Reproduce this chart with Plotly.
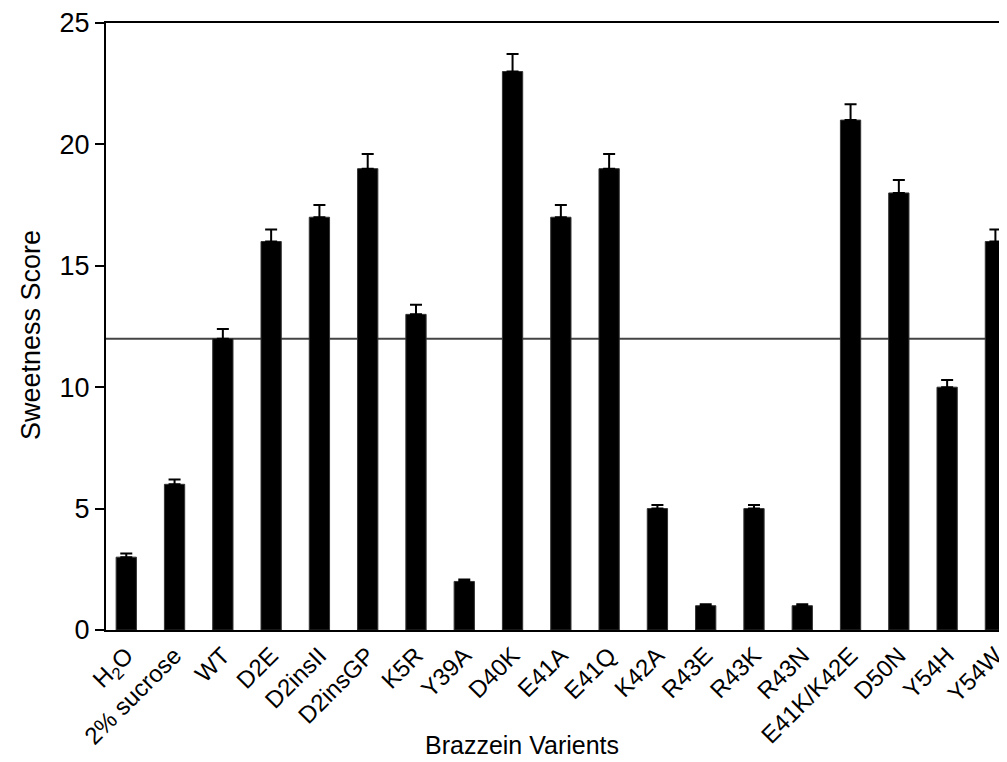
import plotly.graph_objects as go

categories = ["H<sub>2</sub>O", "2% sucrose", "WT", "D2E", "D2insII", "D2insGP", "K5R",
              "Y39A", "D40K", "E41A", "E41Q", "K42A", "R43E", "R43K", "R43N",
              "E41K/K42E", "D50N", "Y54H", "Y54W"]
scores = [3, 6, 12, 16, 17, 19, 13, 2, 23, 17, 19, 5, 1, 5, 1, 21, 18, 10, 16]
errors = [0.15, 0.2, 0.4, 0.5, 0.5, 0.6, 0.4, 0.08, 0.72, 0.5, 0.6, 0.15, 0.06, 0.15, 0.06,
          0.65, 0.53, 0.3, 0.5]
reference_level = 12
y_ticks = [0, 5, 10, 15, 20, 25]

FONT = "Liberation Sans, Arial, sans-serif"

# page has an 8px body margin; plot area target (page px): left 106, right 1007, top 23, bottom 630
W, H = 999, 754
L, T, B = 98, 15, 132
PW, PH = W - L, H - T - B

fig = go.Figure()
fig.add_trace(go.Bar(
    x=list(range(len(categories))), y=scores, width=0.42,
    marker=dict(color="black", line=dict(color="#333", width=1)),
    error_y=dict(type="data", symmetric=False, array=errors,
                 arrayminus=[0] * len(errors), color="black", thickness=2, width=6),
))
fig.add_shape(type="line", xref="paper", yref="y", x0=0, x1=1,
              y0=reference_level, y1=reference_level,
              line=dict(color="#444", width=2), layer="below")

fig.add_annotation(text="Brazzein Varients", xref="paper", yref="paper",
                   x=(522 - 106) / PW, y=-(745 - 630) / PH,
                   showarrow=False, font=dict(size=25, family=FONT, color="black"),
                   xanchor="center", yanchor="middle")
fig.add_annotation(text="Sweetness Score", xref="paper", yref="paper",
                   x=-(106 - 31) / PW, y=(630 - 335) / PH,
                   showarrow=False, textangle=-90,
                   font=dict(size=27, family=FONT, color="black"),
                   xanchor="center", yanchor="middle")

fig.update_layout(
    width=W, height=H,
    margin=dict(l=L, r=0, t=T, b=B),
    paper_bgcolor="white", plot_bgcolor="white",
    showlegend=False,
    font=dict(family=FONT, color="black"),
    xaxis=dict(
        tickmode="array", tickvals=list(range(len(categories))), ticktext=categories,
        range=[-0.42, 18.24], tickangle=-45, tickfont=dict(size=24),
        ticklabeloverflow="allow",
        showline=True, linecolor="black", linewidth=2, mirror=True,
        ticks="", showgrid=False, zeroline=False, automargin=False,
    ),
    yaxis=dict(
        range=[0, 25], tickvals=y_ticks, tickfont=dict(size=27),
        showline=True, linecolor="black", linewidth=2,
        ticks="outside", ticklen=9, tickwidth=2, tickcolor="black",
        showgrid=False, zeroline=False, automargin=False,
    ),
)

fig.write_html("out.html")
